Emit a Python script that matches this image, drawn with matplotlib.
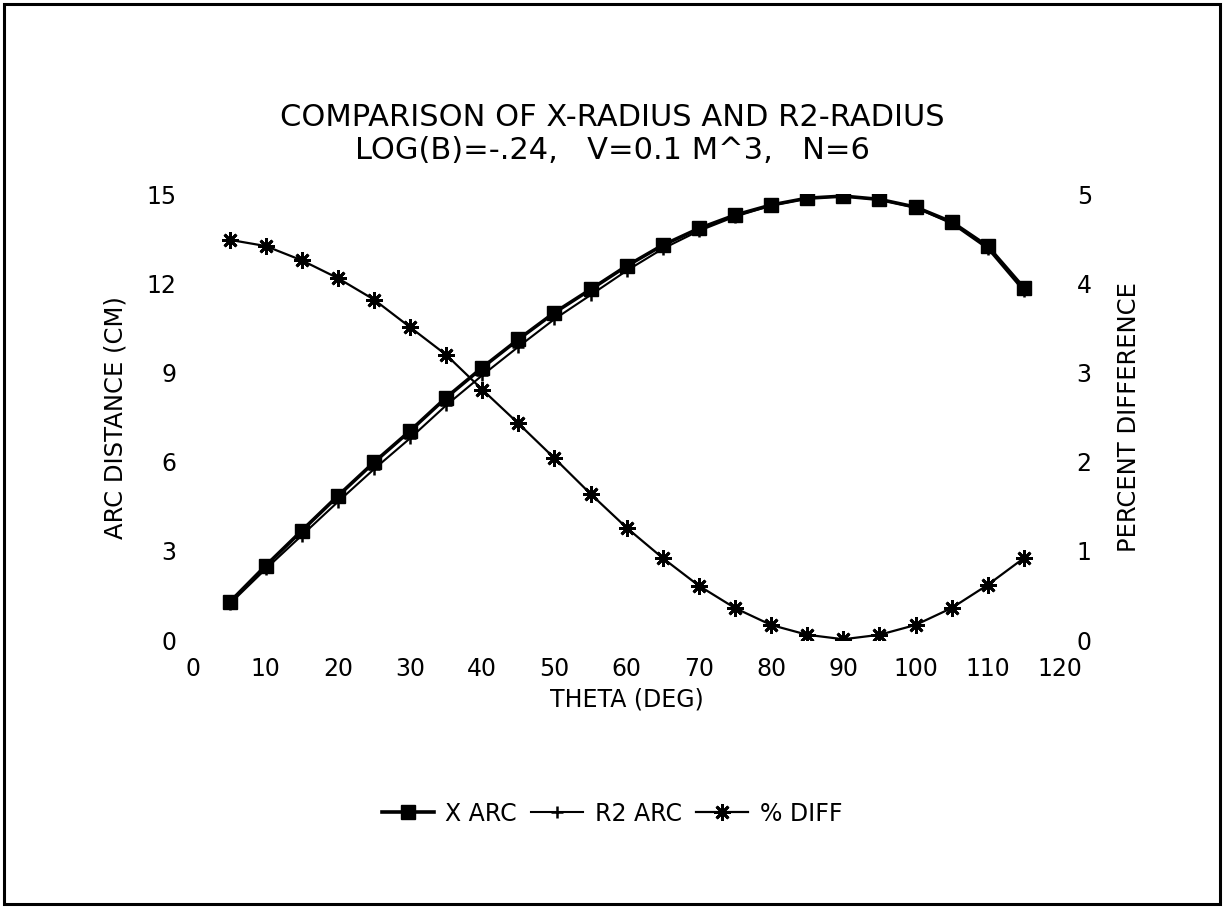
import matplotlib
matplotlib.use("Agg")
import matplotlib.pyplot as plt
from matplotlib.patches import Rectangle

# values
theta = [5, 10, 15, 20, 25, 30, 35, 40, 45, 50, 55, 60,
         65, 70, 75, 80, 85, 90, 95, 100, 105, 110, 115]
x_arc = [1.27, 2.50, 3.68, 4.85, 5.98, 7.04, 8.16, 9.17, 10.12, 11.02, 11.80, 12.59,
         13.29, 13.85, 14.30, 14.64, 14.87, 14.94, 14.83, 14.57, 14.07, 13.25, 11.85]
r2_arc = [1.21, 2.39, 3.52, 4.65, 5.75, 6.79, 7.90, 8.91, 9.87, 10.80, 11.61, 12.43,
          13.17, 13.77, 14.25, 14.62, 14.86, 14.94, 14.82, 14.55, 14.02, 13.17, 11.74]
pct_diff = [4.49, 4.42, 4.26, 4.06, 3.82, 3.51, 3.20, 2.81, 2.43, 2.04, 1.64, 1.26,
            0.92, 0.61, 0.36, 0.17, 0.06, 0.01, 0.06, 0.17, 0.36, 0.62, 0.92]

left_ticks = [0, 3, 6, 9, 12, 15]
right_ticks = [0, 1, 2, 3, 4, 5]
x_ticks = [0, 10, 20, 30, 40, 50, 60, 70, 80, 90, 100, 110, 120]

plt.rcParams['font.family'] = ['DejaVu Sans']

fig = plt.figure(figsize=(12.24, 9.08), dpi=100)
fig.patches.append(Rectangle((0.003, 0.004), 0.994, 0.992, transform=fig.transFigure,
                             fill=False, edgecolor='black', linewidth=2.2))

ax = fig.add_axes([0.158, 0.295, 0.708, 0.491])
ax2 = ax.twinx()

l1, = ax.plot(theta, x_arc, color='black', linewidth=2.6, marker='s',
              markersize=10, label='X ARC', zorder=3)
l2, = ax.plot(theta, r2_arc, color='black', linewidth=1.5, marker='+',
              markersize=9, markeredgewidth=1.8, label='R2 ARC', zorder=2)
l3, = ax2.plot(theta, pct_diff, color='black', linewidth=1.6, marker=(8, 2, 0),
               markersize=12, markeredgewidth=2.0, label='% DIFF')

ax.set_xlim(0, 120)
ax.set_ylim(0, 15)
ax2.set_ylim(0, 5)
ax.set_xticks(x_ticks)
ax.set_yticks(left_ticks)
ax2.set_yticks(right_ticks)

for a in (ax, ax2):
    for s in a.spines.values():
        s.set_visible(False)
    a.tick_params(length=0, labelsize=17)
ax.tick_params(axis='x', pad=12)
ax.tick_params(axis='y', pad=12)
ax2.tick_params(axis='y', pad=12)

ax.set_xlabel('THETA (DEG)', fontsize=17, labelpad=5)
ax.set_ylabel('ARC DISTANCE (CM)', fontsize=17.5, labelpad=14)
ax2.set_ylabel('PERCENT DIFFERENCE', fontsize=17.5, labelpad=18)

fig.text(0.5, 0.871, 'COMPARISON OF X-RADIUS AND R2-RADIUS', ha='center', va='center', fontsize=22)
fig.text(0.5, 0.834, 'LOG(B)=-.24,   V=0.1 M^3,   N=6', ha='center', va='center', fontsize=22)

fig.legend(handles=[l1, l2, l3], loc='center', bbox_to_anchor=(0.5, 0.104), ncol=3,
           frameon=False, fontsize=17, handlelength=2.2, handletextpad=0.5,
           columnspacing=0.6, numpoints=1)

fig.savefig('out.png', dpi=100)
